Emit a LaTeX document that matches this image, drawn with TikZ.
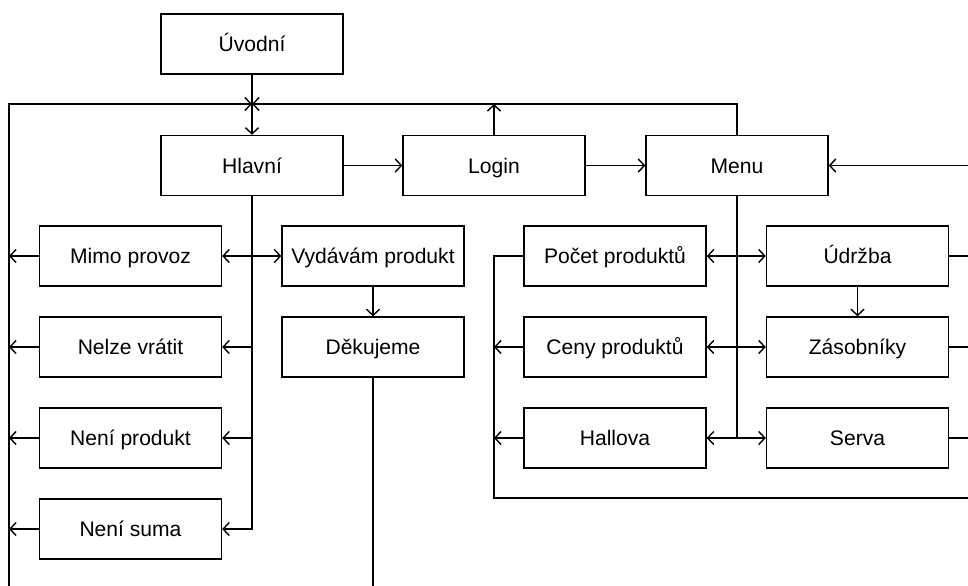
\documentclass[tikz,border=0pt]{standalone}
\usepackage{fontspec}
\setmainfont{Liberation Sans}
\usetikzlibrary{arrows.meta}
\begin{document}
\begin{tikzpicture}[>={Straight Barb[length=3.5pt,width=7.5pt]},line width=0.8pt]
	\tikzstyle{box} = [rectangle,draw=black,minimum width=3.64cm,minimum height=1.2cm,inner sep=0pt,text height=11pt,text depth=2.4pt,font=\fontsize{12}{14}\selectfont]
	\useasboundingbox (0,0) rectangle (19.36,-11.72);
	\clip (0,0) rectangle (19.36,-11.72);
	% top row
	\node[box] (uvodni) at (5.04, -0.88) {Úvodní};
	\node[box] (hlavni) at (5.04, -3.31) {Hlavní};
	\node[box] (login) at (9.88, -3.31) {Login};
	\node[box] (menu) at (14.74, -3.31) {Menu};
	% error screens
	\foreach \t [count=\i] in {Mimo provoz,Nelze vrátit,Není produkt,Není suma}
		\node[box] (error\i) at (2.61, -3.3-\i*1.82) {\t};
	% sale
	\node[box] (vydavam) at (7.46, -5.12) {Vydávám produkt};
	\node[box] (dekujeme) at (7.46, -6.94) {Děkujeme};
	% menu items
	\foreach \t [count=\i] in {Počet produktů,Ceny produktů,Hallova}
		\node[box] (info\i) at (12.30, -3.3-\i*1.82) {\t};
	\foreach \t [count=\i] in {Údržba,Zásobníky,Serva}
		\node[box] (servis\i) at (17.15, -3.3-\i*1.82) {\t};
	% buses
	\coordinate (lbus) at (0.18, -2.08);
	\coordinate (lbusend) at (0.18, -12.5);
	\coordinate (rbus) at (20, -3.31);
	\coordinate (mbus) at (9.88, -9.96);
	% top connections
	\draw[->] (uvodni) -- (hlavni);
	\draw[->] (hlavni) -- (login);
	\draw[->] (login) -- (menu);
	\draw[->] (rbus) -- (menu);
	\draw[->] (login.north) -- (login.north |- lbus);
	\draw[->] (menu.north) |- (hlavni.north |- lbus);
	\draw[->] (lbusend) -- (lbus) -- (hlavni.north |- lbus);
	% hlavni->errors
	\foreach \i in {1,...,4}
		\draw[->] (hlavni.south) |- (error\i.east);
	\foreach \i in {1,...,4}
		\draw[->] (error\i.west) -- (error\i.west -| lbus);
	\draw[->] (hlavni.south |- vydavam.west) -- (vydavam.west);
	\draw[->] (vydavam) -- (dekujeme);
	\draw (dekujeme.south) -- (dekujeme.south |- lbusend);
	% menu->items
	\draw (menu.south) -- (menu.south |- info3.east);
	\foreach \i in {1,...,3}
		\draw[<->] (info\i.east) -- (servis\i.west);
	\draw[->] (servis1) -- (servis2);
	\foreach \i in {1,...,3}
		\draw (servis\i.east) -- (servis\i.east -| rbus);
	\draw (info1.west) -| (mbus) -- (mbus -| rbus);
	\foreach \i in {2,3}
		\draw[->] (info\i.west) -- (info\i.west -| mbus);
\end{tikzpicture}
\end{document}
